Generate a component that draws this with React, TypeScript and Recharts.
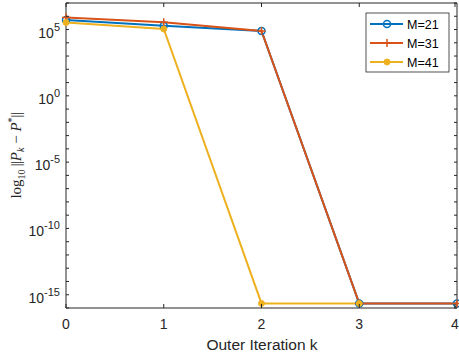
import React from "react"
import { LineChart, Line, XAxis, YAxis, ReferenceLine } from "recharts"

// outer iteration index k
const iterations = [0, 1, 2, 3, 4]
// log10 ||P_k - P*|| (plotted on a log axis)
const errM21 = [5.2e5, 1.9e5, 7.7e4, 2.2e-16, 2.2e-16]
const errM31 = [8.1e5, 3.5e5, 7.7e4, 2.2e-16, 2.2e-16]
const errM41 = [3.4e5, 1.1e5, 2.2e-16, 2.2e-16, null]

const xTicks = [0, 1, 2, 3, 4]
const yTicks = [
  1e-16, 1e-15, 1e-14, 1e-13, 1e-12, 1e-11, 1e-10, 1e-9, 1e-8, 1e-7, 1e-6, 1e-5,
  1e-4, 1e-3, 1e-2, 1e-1, 1e0, 1e1, 1e2, 1e3, 1e4, 1e5, 1e6, 1e7,
]
const yLabelExponents = [5, 0, -5, -10, -15]

const seriesNames = ["M=21", "M=31", "M=41"]
const colors = ["#0072BD", "#D95319", "#EDB120"]

const data = iterations.map((k, i) => ({ k, m21: errM21[i], m31: errM31[i], m41: errM41[i] }))

const W = 459
const H = 359
const PLOT_LEFT = 66
const PLOT_RIGHT = 457
const PLOT_TOP = 3
const PLOT_BOTTOM = 308
const AXIS = "#262626"
const SANS = "'Liberation Sans', Arial, Helvetica, sans-serif"
const SERIF = "'Liberation Serif', 'Times New Roman', serif"

function XTick(props: any) {
  const { x, payload } = props
  return (
    <g>
      <line x1={x} x2={x} y1={PLOT_BOTTOM} y2={PLOT_BOTTOM - 4} stroke={AXIS} />
      <line x1={x} x2={x} y1={PLOT_TOP} y2={PLOT_TOP + 4} stroke={AXIS} />
      <text x={x} y={329} textAnchor="middle" fontSize={14} fontFamily={SANS} fill={AXIS}>
        {payload.value}
      </text>
    </g>
  )
}

function YTick(props: any) {
  const { y, payload } = props
  const exp = Math.round(Math.log10(payload.value))
  const labeled = yLabelExponents.includes(exp)
  return (
    <g>
      <line x1={PLOT_LEFT} x2={PLOT_LEFT + 3} y1={y} y2={y} stroke={AXIS} />
      <line x1={PLOT_RIGHT} x2={PLOT_RIGHT - 3} y1={y} y2={y} stroke={AXIS} />
      {labeled && (
        <text x={60} y={y + 8} textAnchor="end" fontSize={14} fontFamily={SANS} fill={AXIS}>
          10
          <tspan dy={-7} fontSize={11}>{exp}</tspan>
        </text>
      )}
    </g>
  )
}

function PlusDot(props: any) {
  const { cx, cy, stroke } = props
  if (cx == null || cy == null) return null
  return (
    <g>
      <line x1={cx - 4} x2={cx + 4} y1={cy} y2={cy} stroke={stroke} strokeWidth={1.5} />
      <line x1={cx} x2={cx} y1={cy - 4} y2={cy + 4} stroke={stroke} strokeWidth={1.5} />
    </g>
  )
}

function LegendBox() {
  const rows = [24, 43, 62]
  return (
    <svg width={W} height={H} style={{ position: "absolute", left: 0, top: 0, pointerEvents: "none" }}>
      <rect x={366} y={13} width={83} height={59} fill="#fff" stroke={AXIS} strokeWidth={0.8} />
      {seriesNames.map((name, i) => (
        <g key={name}>
          <line x1={370} x2={403} y1={rows[i]} y2={rows[i]} stroke={colors[i]} strokeWidth={2} />
          {i === 0 && <circle cx={387} cy={rows[i]} r={3.5} fill="none" stroke={colors[i]} strokeWidth={1.5} />}
          {i === 1 && <PlusDot cx={387} cy={rows[i]} stroke={colors[i]} />}
          {i === 2 && <circle cx={387} cy={rows[i]} r={3} fill={colors[i]} stroke={colors[i]} />}
          <text x={407} y={rows[i] + 4.5} fontSize={12.5} fontFamily={SANS} fill="#000">
            {name}
          </text>
        </g>
      ))}
    </svg>
  )
}

export default function App() {
  const midY = (PLOT_TOP + PLOT_BOTTOM) / 2
  return (
    <div style={{ position: "absolute", left: 0, top: 0, width: W, height: H, background: "#fff" }}>
      <LineChart width={W} height={H} data={data} margin={{ top: PLOT_TOP, right: W - PLOT_RIGHT, left: 0, bottom: 0 }}>
        <XAxis
          dataKey="k"
          type="number"
          domain={[0, 4]}
          ticks={xTicks}
          height={H - PLOT_BOTTOM}
          tickLine={false}
          tick={<XTick />}
          axisLine={{ stroke: AXIS }}
        />
        <YAxis
          scale="log"
          domain={[1e-16, 1e7]}
          ticks={yTicks}
          interval={0}
          allowDataOverflow
          width={PLOT_LEFT}
          tickLine={false}
          tick={<YTick />}
          axisLine={{ stroke: AXIS }}
        />
        <ReferenceLine y={1e7} stroke={AXIS} strokeWidth={1} />
        <ReferenceLine x={4} stroke={AXIS} strokeWidth={1} />
        <Line
          dataKey="m21"
          stroke={colors[0]}
          strokeWidth={2}
          isAnimationActive={false}
          dot={{ r: 3.5, fill: "none", stroke: colors[0], strokeWidth: 1.5 }}
        />
        <Line
          dataKey="m31"
          stroke={colors[1]}
          strokeWidth={2}
          isAnimationActive={false}
          dot={<PlusDot />}
        />
        <Line
          dataKey="m41"
          stroke={colors[2]}
          strokeWidth={2}
          isAnimationActive={false}
          dot={{ r: 3, fill: colors[2], stroke: colors[2], strokeWidth: 1 }}
        />
        <text x={262} y={350} textAnchor="middle" fontSize={15.5} fontFamily={SANS} fill={AXIS}>
          Outer Iteration k
        </text>
        <text
          x={21}
          y={midY}
          textAnchor="middle"
          fontSize={15}
          fontFamily={SERIF}
          fill={AXIS}
          transform={`rotate(-90, 21, ${midY})`}
        >
          log
          <tspan dy={4} fontSize={10}>10</tspan>
          <tspan dy={-4} letterSpacing={-0.5}>{" ||"}</tspan>
          <tspan fontStyle="italic">P</tspan>
          <tspan dy={3} fontSize={10} fontStyle="italic">k</tspan>
          <tspan dy={-3}>{" \u2212 "}</tspan>
          <tspan fontStyle="italic">P</tspan>
          <tspan dy={-6} fontSize={10}>*</tspan>
          <tspan dy={6} letterSpacing={-0.5}>{"||"}</tspan>
        </text>
      </LineChart>
      <LegendBox />
    </div>
  )
}
